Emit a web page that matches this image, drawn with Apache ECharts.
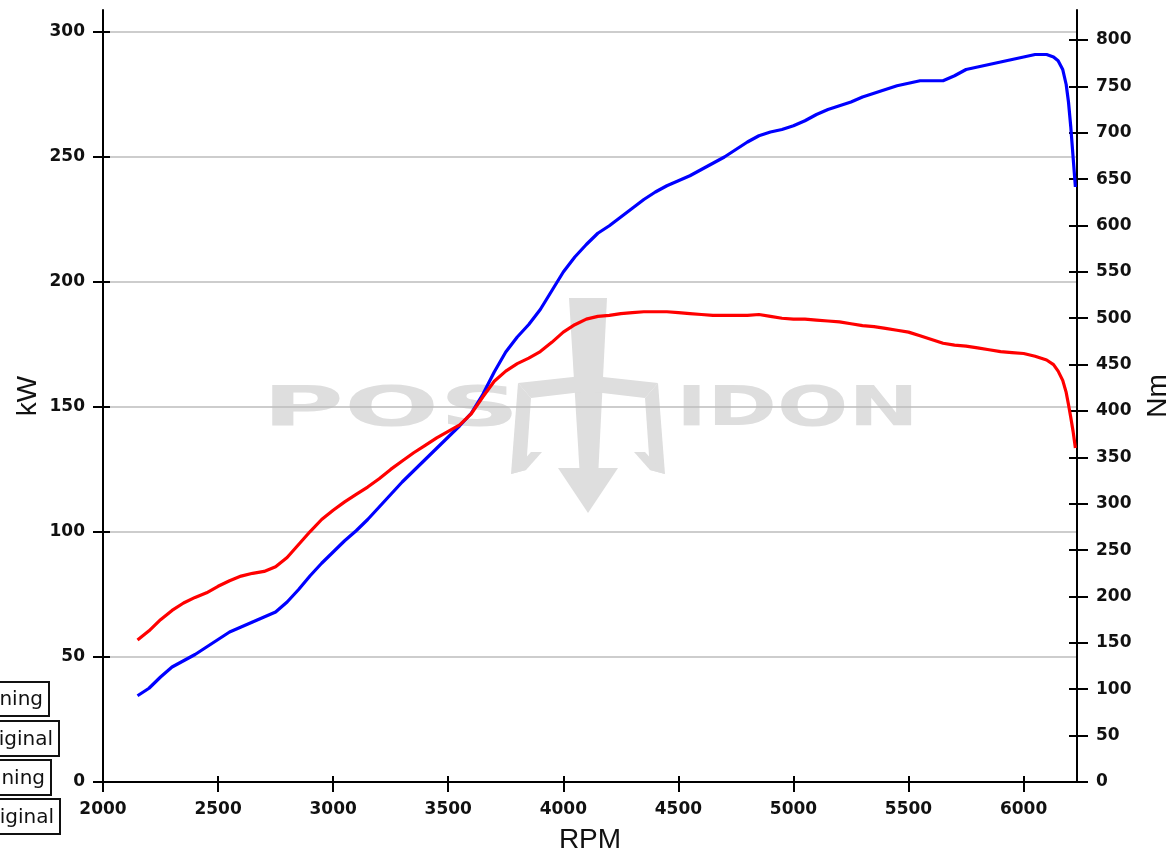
<!DOCTYPE html>
<html>
<head>
<meta charset="utf-8">
<script src="https://cdn.jsdelivr.net/npm/echarts@6/dist/echarts.min.js"></script>
<style>html,body{margin:0;padding:0;background:#fff}#c{width:1172px;height:852px}</style>
</head>
<body>
<div id="c"></div>
<script>
// Power curve (kW, left axis)
const rpmPower = [2150,2200,2250,2300,2350,2400,2450,2500,2550,2600,2650,2700,2750,2800,2850,2900,2950,3000,3050,3100,3150,3200,3250,3300,3350,3400,3450,3500,3550,3600,3650,3700,3750,3800,3850,3900,3950,4000,4050,4100,4150,4200,4250,4300,4350,4400,4450,4500,4550,4600,4650,4700,4750,4800,4850,4900,4950,5000,5050,5100,5150,5200,5250,5300,5350,5400,5450,5500,5550,5600,5650,5700,5750,5800,5850,5900,5950,6000,6050,6100,6130,6150,6170,6185,6195,6205,6215,6225];
const kwValues = [34.5,37.5,42,46,48.5,51,54,57,60,62,64,66,68,72,77,82.5,87.5,92,96.5,100.5,105,110,115,120,124.5,129,133.5,138,142.5,147.5,155,164,172,178,183,189,196.5,204,210,215,219.5,222.5,226,229.5,233,236,238.5,240.5,242.5,245,247.5,250,253,256,258.5,260,261,262.5,264.5,267,269,270.5,272,274,275.5,277,278.5,279.5,280.5,280.5,280.5,282.5,285,286,287,288,289,290,291,291,290,288.5,285,279,272,262,250,238];
// Torque curve (Nm, right axis)
const rpmTorque = [2150,2200,2250,2300,2350,2400,2450,2500,2550,2600,2650,2700,2750,2800,2850,2900,2950,3000,3050,3100,3150,3200,3250,3300,3350,3400,3450,3500,3550,3600,3650,3700,3750,3800,3850,3900,3950,4000,4050,4100,4150,4200,4250,4300,4350,4400,4450,4500,4550,4600,4650,4700,4750,4800,4850,4900,4950,5000,5050,5100,5150,5200,5250,5300,5350,5400,5450,5500,5550,5600,5650,5700,5750,5800,5850,5900,5950,6000,6050,6100,6130,6150,6170,6185,6195,6205,6215,6225];
const nmValues = [153,163,175,185,193,199,204,211,217,222,225,227,232,242,256,270,283,293,302,310,318,327,337,346,355,363,371,378,385,397,415,432,443,451,457,464,474,485,493,499,502,503,505,506,507,507,507,506,505,504,503,503,503,503,504,502,500,499,499,498,497,496,494,492,491,489,487,485,481,477,473,471,470,468,466,464,463,462,459,455,450,443,433,420,407,393,378,360];
// Tick labels
const kwTicks = [0,50,100,150,200,250,300];
const nmTicks = [0,50,100,150,200,250,300,350,400,450,500,550,600,650,700,750,800];
const rpmTicks = [2000,2500,3000,3500,4000,4500,5000,5500,6000];
const legendLabels = ['Tuning','Original','Tuning','Original'];
const watermarkWords = ['POS','IDON'];

const chart = echarts.init(document.getElementById('c'), null, {renderer:'canvas'});
const labelFont = {fontFamily:'DejaVu Sans', fontWeight:'bold', fontSize:17, color:'#111', formatter:(v)=>String(v)};
const nameFont = {fontFamily:'Liberation Sans', fontSize:28, color:'#111'};
const axLine = {show:true, onZero:false, lineStyle:{color:'#000', width:2}};
const WM = '#dedede';

const legendBoxes = [
  {right:49, top:682, h:34},
  {right:59, top:721, h:35},
  {right:51, top:760, h:35},
  {right:60, top:799, h:35}
];
const graphics = [];
legendBoxes.forEach((b,i)=>{
  graphics.push({type:'rect', shape:{x:-150, y:b.top, width:150+b.right, height:b.h},
    style:{fill:'#fff', stroke:'#111', lineWidth:2}, z:100});
  graphics.push({type:'text', x:b.right-6, y:b.top+b.h/2+1, z:101,
    style:{text:legendLabels[i], fontFamily:'DejaVu Sans', fontSize:20, fill:'#111', align:'right', verticalAlign:'middle'}});
});
// watermark
graphics.push({type:'text', x:262, y:382, scaleX:2.0, scaleY:1, z:-10, silent:true,
  style:{text:watermarkWords[0], fontFamily:'DejaVu Sans', fontWeight:'bold', fontSize:56, fill:WM, align:'left', verticalAlign:'top'}});
graphics.push({type:'text', x:676, y:382, scaleX:1.5, scaleY:1, z:-10, silent:true,
  style:{text:watermarkWords[1], fontFamily:'DejaVu Sans', fontWeight:'bold', fontSize:56, fill:WM, align:'left', verticalAlign:'top'}});
const tri = [
  [[569,298],[607,298],[598,478],[580,478]],
  [[558,468],[618,468],[588,513]],
  [[518,383],[582,376],[582,392],[531,398]],
  [[658,383],[594,376],[594,392],[645,398]],
  [[518,383],[531,398],[526,470],[511,474]],
  [[658,383],[645,398],[650,470],[665,474]],
  [[511,474],[526,470],[542,452],[531,452]],
  [[665,474],[650,470],[634,452],[645,452]]
];
tri.forEach(p=>graphics.push({type:'polygon', shape:{points:p}, style:{fill:WM}, z:-10, silent:true}));

const tickStyle = {color:'#000', width:2};
const option = {
  backgroundColor:'#fff',
  animation:false,
  graphic: graphics,
  grid:{left:103, right:95, top:10, bottom:70, containLabel:false, outerBoundsMode:'none'},
  xAxis:[
    {type:'value', gridIndex:0, min:2000, max:6232, interval:500, position:'bottom', offset:0,
     name:'RPM', nameLocation:'middle', nameGap:44, nameTextStyle:nameFont,
     axisLine:axLine, axisTick:{show:true, inside:false, length:10, lineStyle:tickStyle, customValues:rpmTicks},
     axisLabel:{...labelFont, margin:19, customValues:rpmTicks}, splitLine:{show:false}},
    {type:'value', gridIndex:0, min:2000, max:6232, interval:500, position:'bottom', offset:0,
     axisLine:{show:false, onZero:false}, axisTick:{show:true, inside:true, length:6, lineStyle:tickStyle, customValues:rpmTicks},
     axisLabel:{show:false}, splitLine:{show:false}}
  ],
  yAxis:[
    {type:'value', gridIndex:0, min:0, max:308.8, interval:50, position:'left', offset:0,
     name:'kW', nameLocation:'middle', nameGap:61, nameRotate:90, nameMoveOverlap:false, nameTextStyle:nameFont,
     axisLine:axLine, axisTick:{show:true, inside:false, length:10, lineStyle:tickStyle, customValues:kwTicks},
     axisLabel:{...labelFont, margin:18, customValues:kwTicks},
     splitLine:{show:true, lineStyle:{color:'#bdbdbd', width:1.5}}},
    {type:'value', gridIndex:0, min:0, max:832.3, interval:50, position:'right', offset:0,
     name:'Nm', nameLocation:'middle', nameGap:67, nameRotate:90, nameTextStyle:nameFont,
     axisLine:axLine, axisTick:{show:true, inside:false, length:11, lineStyle:tickStyle, customValues:nmTicks},
     axisLabel:{...labelFont, margin:19, customValues:nmTicks}, splitLine:{show:false}},
    {type:'value', gridIndex:0, min:0, max:308.8, interval:50, position:'left', offset:0,
     axisLine:{show:false, onZero:false}, axisTick:{show:true, inside:true, length:7, lineStyle:tickStyle, customValues:kwTicks},
     axisLabel:{show:false}, splitLine:{show:false}},
    {type:'value', gridIndex:0, min:0, max:832.3, interval:50, position:'right', offset:0,
     axisLine:{show:false, onZero:false}, axisTick:{show:true, inside:true, length:8, lineStyle:tickStyle, customValues:nmTicks},
     axisLabel:{show:false}, splitLine:{show:false}}
  ],
  series:[
    {type:'line', name:'kW', xAxisIndex:0, yAxisIndex:0, showSymbol:false, smooth:false, z:5,
     lineStyle:{color:'#0000ff', width:3.2}, itemStyle:{color:'#0000ff'},
     data: rpmPower.map((r,i)=>[r, kwValues[i]])},
    {type:'line', name:'Nm', xAxisIndex:0, yAxisIndex:1, showSymbol:false, smooth:false, z:5,
     lineStyle:{color:'#ff0000', width:3.2}, itemStyle:{color:'#ff0000'},
     data: rpmTorque.map((r,i)=>[r, nmValues[i]])},
    {type:'line', name:'ticks-x', xAxisIndex:1, yAxisIndex:2, showSymbol:false, silent:true, data:[], lineStyle:{opacity:0}},
    {type:'line', name:'ticks-y', xAxisIndex:1, yAxisIndex:3, showSymbol:false, silent:true, data:[], lineStyle:{opacity:0}}
  ]
};
chart.setOption(option);
</script>
</body>
</html>
